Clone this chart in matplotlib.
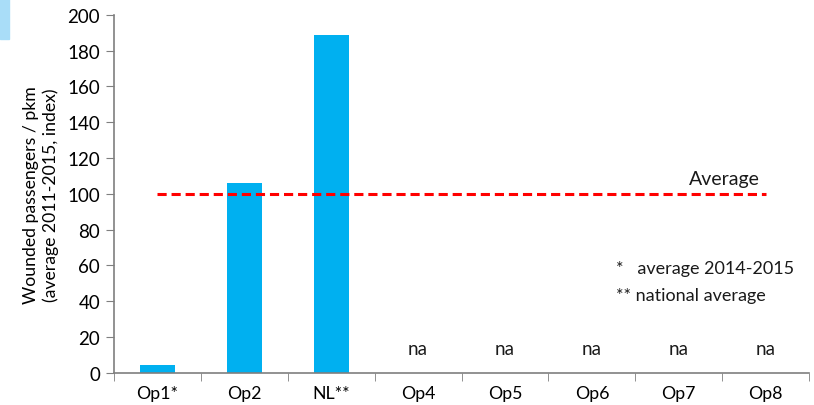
import matplotlib
matplotlib.use("Agg")
import matplotlib.pyplot as plt
import numpy as np
from matplotlib.patches import Rectangle

categories = ["Op1*", "Op2", "NL**", "Op4", "Op5", "Op6", "Op7", "Op8"]
values = [4.5, 106, 189, None, None, None, None, None]
average = 100
na_label = "na"

plt.rcParams['font.family'] = ['Lato', 'DejaVu Sans']

fig = plt.figure(figsize=(8.14, 4.06), dpi=100)
ax = fig.add_axes([0.140, 0.079, 0.854, 0.882])

x = np.arange(len(categories))
for xi, v in zip(x, values):
    if v is not None:
        ax.bar(xi, v, width=0.4, color="#00B0F0", zorder=2)
    else:
        ax.text(xi, 13.5, na_label, ha="center", va="center", fontsize=13.5, color="#1a1a1a")

ax.plot([x[0], x[-1]], [average, average], color="#FF0000", lw=2.2, ls=(0, (3, 1.6)), zorder=3)
ax.text(x[-1] - 0.07, average + 4, "Average", ha="right", va="bottom", fontsize=14, color="#1a1a1a")

ax.text(5.28, 58.5, "*   average 2014-2015", ha="left", va="center", fontsize=13, color="#1a1a1a")
ax.text(5.28, 43.5, "** national average", ha="left", va="center", fontsize=13, color="#1a1a1a")

ax.set_xlim(-0.5, len(categories) - 0.5)
ax.set_ylim(0, 200)
ax.set_yticks(np.arange(0, 201, 20))
ax.set_xticks(x)
ax.set_xticklabels(categories, fontsize=12.8)
ax.set_xticks(np.arange(-0.5, len(categories), 1), minor=True)
ax.tick_params(axis="x", which="major", length=0, pad=9)
ax.tick_params(axis="x", which="minor", length=6, color="#7f7f7f", direction="out")
ax.tick_params(axis="y", length=6, color="#7f7f7f", direction="out", labelsize=13.5, pad=4)

for s in ["top", "right"]:
    ax.spines[s].set_visible(False)
for s in ["left", "bottom"]:
    ax.spines[s].set_color("#7f7f7f")
    ax.spines[s].set_linewidth(1.2)

ax.set_ylabel("Wounded passengers / pkm\n(average 2011-2015, index)", fontsize=12.7, linespacing=1.25, labelpad=6)

fig.patches.append(Rectangle((0, 1 - 40/406), 9/814, 40/406, transform=fig.transFigure,
                             color="#A9DDF8", zorder=0))

fig.savefig("out.png", dpi=100)
